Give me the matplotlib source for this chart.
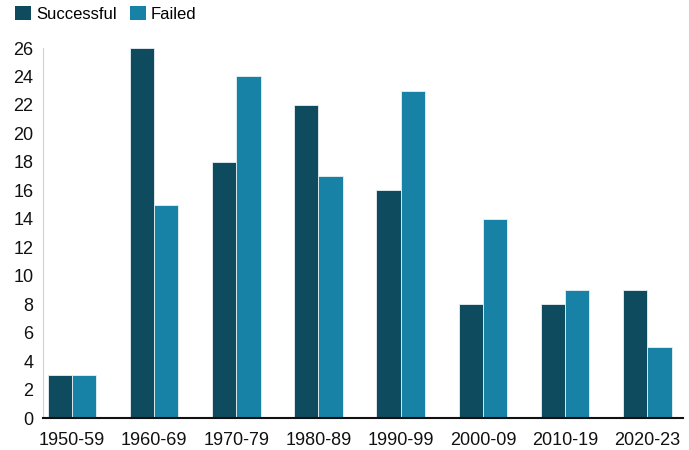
import matplotlib
matplotlib.use("Agg")
import matplotlib.pyplot as plt
import numpy as np
from matplotlib.patches import Patch

plt.rcParams['font.family'] = ['Liberation Sans', 'DejaVu Sans']

decades = ["1950-59", "1960-69", "1970-79", "1980-89", "1990-99", "2000-09", "2010-19", "2020-23"]
successful = [3, 26, 18, 22, 16, 8, 8, 9]
failed = [3, 15, 24, 17, 23, 14, 9, 5]

c_success = "#0e4b5e"
c_failed = "#1782a6"

fig = plt.figure(figsize=(6.89, 4.5), dpi=100)
ax = fig.add_axes([0.0624, 0.0711, 0.9286, 0.8222])

x = np.arange(len(decades))
w = 0.295
ax.bar(x - w / 2, successful, width=w, color=c_success, edgecolor="#e8f0f2", linewidth=0.6)
ax.bar(x + w / 2, failed, width=w, color=c_failed, edgecolor="#e8f0f2", linewidth=0.6)

ax.set_xlim(-0.35, 7.43)
ax.set_ylim(0, 26)
ax.set_yticks(range(0, 27, 2))
ax.set_xticks(x)
ax.set_xticklabels(decades)
ax.tick_params(axis="both", length=0, labelsize=13, colors="#111111")
ax.tick_params(axis="y", pad=7)
ax.tick_params(axis="x", pad=10)

for s in ["top", "right"]:
    ax.spines[s].set_visible(False)
ax.spines["left"].set_color("#d0d0d0")
ax.spines["left"].set_linewidth(0.8)
ax.spines["bottom"].set_color("#111111")
ax.spines["bottom"].set_linewidth(1.5)

handles = [Patch(facecolor=c_success, label="Successful"), Patch(facecolor=c_failed, label="Failed")]
fig.legend(handles=handles, loc="upper left", bbox_to_anchor=(0.0, 1.02), ncol=2, frameon=False,
           fontsize=12, handlelength=0.95, handleheight=0.95, handletextpad=0.3, columnspacing=0.8)

fig.savefig("out.png", dpi=100, facecolor="white")
